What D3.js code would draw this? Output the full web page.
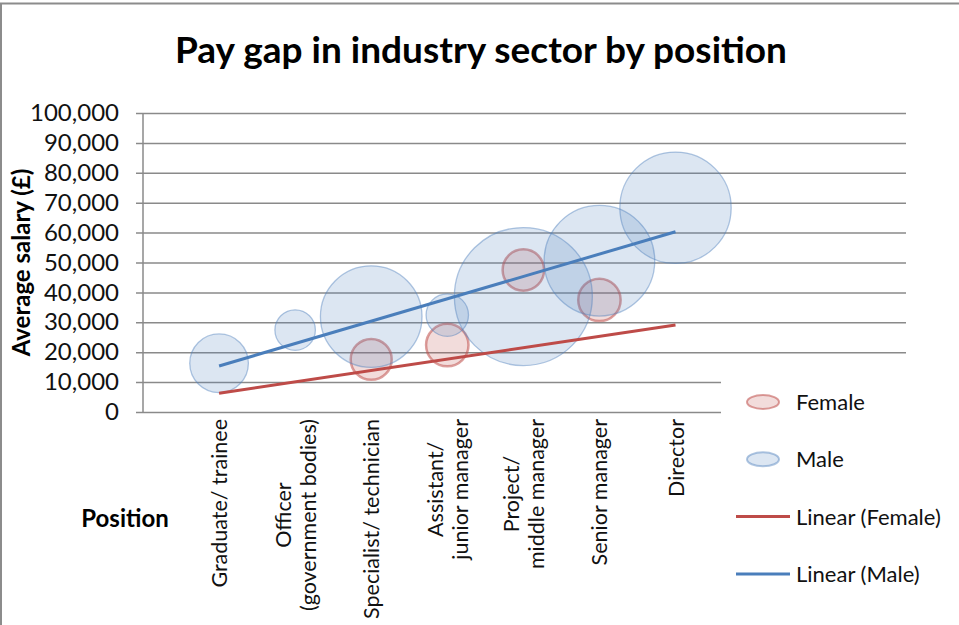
<!DOCTYPE html>
<html>
<head>
<meta charset="utf-8">
<script src="https://cdn.jsdelivr.net/npm/d3@7"></script>
<style>
  body { margin: 0; background: #fff; }
  svg { display: block; font-family: Lato, "Open Sans", sans-serif; }
</style>
</head>
<body>
<div id="chart"></div>
<script>
// Data
var positions = [
  ["Graduate/ trainee"],
  ["Officer", "(government bodies)"],
  ["Specialist/ technician"],
  ["Assistant/", "junior manager"],
  ["Project/", "middle manager"],
  ["Senior manager"],
  ["Director"]
];
var maleSalary = [16300, 27400, 31900, 32400, 38600, 50600, 68300];
var maleSize = [86, 41, 258, 45, 476, 306, 310];
var femaleSalary = [null, null, 17600, 22400, 47500, 37500, null];
var femaleSize = [null, null, 42, 45, 43, 45, null];
// trend line ends (at first and last position)
var trendFemale = [6300, 29100];
var trendMale = [15400, 60300];
var yTicks = [0, 10000, 20000, 30000, 40000, 50000, 60000, 70000, 80000, 90000, 100000];

var W = 959, H = 625;
var plot = {left: 143, right: 906, top: 113, bottom: 412};

var svg = d3.select("#chart").append("svg")
  .attr("width", W)
  .attr("height", H);

// chart border (only top and left show in the picture)
svg.append("path")
  .attr("d", "M1," + H + "V3.5H" + W)
  .style("fill", "none")
  .style("stroke", "#8c8c8c")
  .style("stroke-width", 2);

var x = d3.scaleLinear().domain([0, 10.03]).range([plot.left, plot.right]);
var y = d3.scaleLinear().domain([0, 100000]).range([plot.bottom, plot.top]);
var r = d3.scaleSqrt().domain([0, 476]).range([0, 69]);

//Title
svg.append("text")
  .attr("x", 481)
  .attr("y", 63)
  .style("text-anchor", "middle")
  .style("font-size", "37px")
  .style("font-weight", "bold")
  .text("Pay gap in industry sector by position");

//Gridlines + y axis
var yAxis = svg.append("g")
  .attr("transform", "translate(" + plot.left + ",0)")
  .call(d3.axisLeft(y).tickValues(yTicks).tickSize(-(plot.right - plot.left)).tickSizeOuter(0)
    .tickFormat(d3.format(",")).tickPadding(24));
yAxis.select(".domain").remove();
yAxis.selectAll(".tick line")
  .attr("x1", -7)
  .style("stroke", "#8a8a8a")
  .style("stroke-width", 1.5);
yAxis.selectAll(".tick text")
  .style("font-family", "Lato, sans-serif")
  .style("font-size", "24px")
  .style("fill", "#111");

svg.append("line")
  .attr("x1", plot.left).attr("x2", plot.left)
  .attr("y1", plot.top).attr("y2", plot.bottom)
  .style("stroke", "#8a8a8a")
  .style("stroke-width", 1.5);

//Y label
svg.append("text")
  .attr("transform", "translate(30," + ((plot.top + plot.bottom) / 2) + ") rotate(-90)")
  .style("text-anchor", "middle")
  .style("font-size", "24px")
  .style("font-weight", "bold")
  .text("Average salary (£)");

//X category labels
var lineH = 25;
positions.forEach(function(lines, i){
  var g = svg.append("g")
    .attr("transform", "translate(" + x(i + 1) + ",0)");
  var texts = lines.map(function(t, j){
    return g.append("text")
      .style("font-size", "21.5px")
      .style("fill", "#111")
      .text(t);
  });
  var maxLen = d3.max(texts, function(t){ return t.node().getComputedTextLength(); });
  texts.forEach(function(t, j){
    var off = (j - (lines.length - 1) / 2) * lineH;
    t.attr("transform", "translate(" + (off + 8) + "," + (419 + maxLen / 2) + ") rotate(-90)")
      .style("text-anchor", "middle");
  });
});

//X label
svg.append("text")
  .attr("x", 125)
  .attr("y", 527)
  .style("text-anchor", "middle")
  .style("font-size", "24px")
  .style("font-weight", "bold")
  .text("Position");

//Bubbles
var femaleData = femaleSalary.map(function(v, i){ return {x: i + 1, y: v, s: femaleSize[i]}; })
  .filter(function(d){ return d.y != null; });
var maleData = maleSalary.map(function(v, i){ return {x: i + 1, y: v, s: maleSize[i]}; });

svg.append("g").selectAll("circle").data(femaleData).enter().append("circle")
  .attr("cx", function(d){ return x(d.x); })
  .attr("cy", function(d){ return y(d.y); })
  .attr("r", function(d){ return r(d.s); })
  .style("fill", "rgba(192,80,77,0.2)")
  .style("stroke", "rgba(192,80,77,0.55)")
  .style("stroke-width", 2.5);

svg.append("g").selectAll("circle").data(maleData).enter().append("circle")
  .attr("cx", function(d){ return x(d.x); })
  .attr("cy", function(d){ return y(d.y); })
  .attr("r", function(d){ return r(d.s); })
  .style("fill", "rgba(79,129,189,0.2)")
  .style("stroke", "rgba(79,129,189,0.45)")
  .style("stroke-width", 1.3);

//Trend lines
var trendLine = d3.line()
  .x(function(d, i){ return x(i == 0 ? 1 : positions.length); })
  .y(function(d){ return y(d); });

svg.append("path")
  .datum(trendFemale)
  .attr("d", trendLine)
  .style("fill", "none")
  .style("stroke", "#be4b48")
  .style("stroke-width", 3);

svg.append("path")
  .datum(trendMale)
  .attr("d", trendLine)
  .style("fill", "none")
  .style("stroke", "#4a7ebb")
  .style("stroke-width", 3);

//Legend
var legend = svg.append("g");
legend.append("rect")
  .attr("x", 721).attr("y", 378)
  .attr("width", 232).attr("height", 222)
  .style("fill", "#fff");

var legendItems = [
  {label: "Female", type: "bubble", fill: "rgba(192,80,77,0.2)", stroke: "rgba(192,80,77,0.55)"},
  {label: "Male", type: "bubble", fill: "rgba(79,129,189,0.2)", stroke: "rgba(79,129,189,0.45)"},
  {label: "Linear (Female)", type: "line", stroke: "#be4b48"},
  {label: "Linear (Male)", type: "line", stroke: "#4a7ebb"}
];
legendItems.forEach(function(d, i){
  var cy = 402 + i * 57.3;
  if(d.type == "bubble"){
    legend.append("ellipse")
      .attr("cx", 763).attr("cy", cy)
      .attr("rx", 16).attr("ry", 7)
      .style("fill", d.fill)
      .style("stroke", d.stroke)
      .style("stroke-width", 2);
  }
  else {
    legend.append("line")
      .attr("x1", 736).attr("x2", 790)
      .attr("y1", cy).attr("y2", cy)
      .style("stroke", d.stroke)
      .style("stroke-width", 3);
  }
  legend.append("text")
    .attr("x", 796).attr("y", cy + 8)
    .style("font-size", "22px")
    .style("fill", "#111")
    .text(d.label);
});
</script>
</body>
</html>
